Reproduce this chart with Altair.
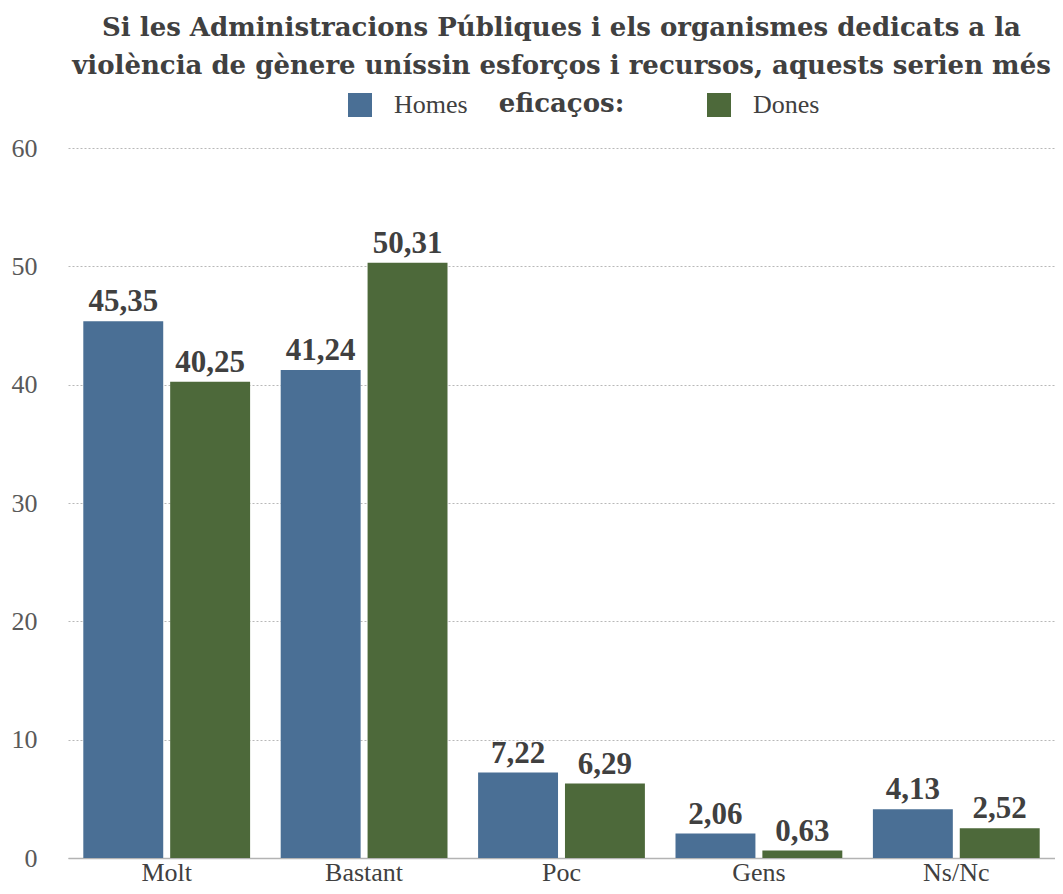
import altair as alt
import pandas as pd

categories = ["Molt", "Bastant", "Poc", "Gens", "Ns/Nc"]
homes = [45.35, 41.24, 7.22, 2.06, 4.13]
dones = [40.25, 50.31, 6.29, 0.63, 2.52]
series = ["Homes", "Dones"]
colors = ["#4a6f95", "#4d693a"]
y_ticks = [0, 10, 20, 30, 40, 50, 60]
title_lines = [
    "Si les Administracions Públiques i els organismes dedicats a la",
    "violència de gènere uníssin esforços i recursos, aquests serien més",
    "eficaços:",
]

rows = []
for i, c in enumerate(categories):
    rows.append({"cat": c, "sex": series[0], "value": homes[i]})
    rows.append({"cat": c, "sex": series[1], "value": dones[i]})
df = pd.DataFrame(rows)

FONT = "Liberation Serif"
TFONT = "DejaVu Serif"
TXT = "#404040"

base = alt.Chart(df).transform_calculate(
    label="replace(format(datum.value, '.2f'), '.', ',')"
).encode(
    x=alt.X(
        "cat:N",
        sort=categories,
        scale=alt.Scale(paddingInner=0.155, paddingOuter=0.0775),
        axis=alt.Axis(
            title=None, labelAngle=0, labelFont=FONT, labelFontSize=26,
            labelColor=TXT, labelPadding=1, ticks=False,
            domainColor="#b3b3b3", domainWidth=1.5, grid=False,
        ),
    ),
    xOffset=alt.XOffset("sex:N", sort=series, scale=alt.Scale(paddingInner=0.08)),
    y=alt.Y(
        "value:Q",
        scale=alt.Scale(domain=[0, 60]),
        axis=alt.Axis(
            title=None, values=y_ticks, grid=True, gridDash=[2, 2],
            gridColor="#b8b8b8", gridWidth=1, domain=False, ticks=False,
            labelPadding=31, labelFont=FONT, labelFontSize=26, labelColor="#595959",
        ),
    ),
)

bars = base.mark_bar().encode(
    color=alt.Color(
        "sex:N",
        sort=series,
        scale=alt.Scale(domain=series, range=colors),
        legend=alt.Legend(
            orient="none", legendX=279, legendY=-56, direction="horizontal",
            title=None, symbolType="square", symbolSize=576, symbolStrokeWidth=0,
            symbolOpacity=1, labelFont=FONT, labelFontSize=26, labelColor=TXT,
            labelOffset=21, columnPadding=238, padding=0,
        ),
    )
)

labels = base.mark_text(
    dy=-10, baseline="alphabetic", font=FONT, fontWeight="bold",
    fontSize=31, color=TXT,
).encode(text="label:N")

chart = alt.layer(bars, labels).properties(
    width=987,
    height=710,
    autosize="none",
    padding={"left": 60, "top": 140, "right": 0, "bottom": 28},
    title=alt.TitleParams(
        text=title_lines, font=TFONT, fontSize=26, fontWeight="bold",
        color=TXT, lineHeight=38, anchor="middle", offset=-25,
    ),
).configure_view(stroke=None)

chart.save("out.html", embed_options={"renderer": "svg", "actions": False})
